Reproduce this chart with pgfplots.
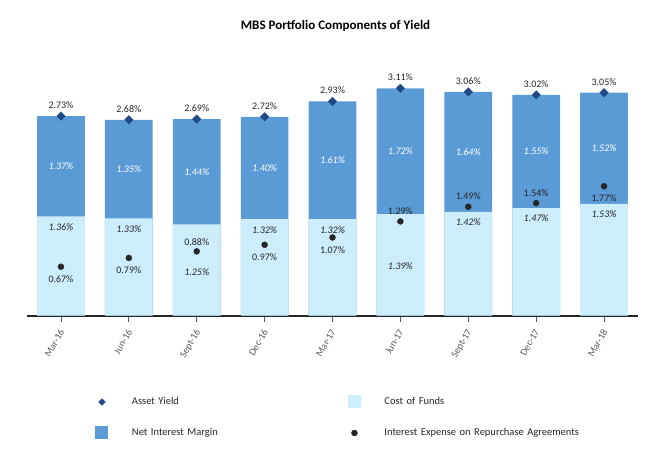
\documentclass[border=0pt]{standalone}
\usepackage{pgfplots}
\pgfplotsset{compat=1.18}
\usepackage{pgfplotstable}
\usepackage{fontspec}
\setmainfont{Carlito}
\definecolor{nimblue}{HTML}{5B9BD5}
\definecolor{cofblue}{HTML}{CCEEFC}
\definecolor{navy}{HTML}{1F4A87}
\definecolor{dotc}{HTML}{262626}
\definecolor{labc}{HTML}{262626}
\definecolor{tickc}{HTML}{595959}

\pgfplotstableread{
x ay cof nim ie ayl niml cofl iel
0 2.73 1.36 1.37 0.67 2.88 2.045 1.21 0.50
1 2.68 1.33 1.35 0.79 2.83 2.005 1.19 0.62
2 2.69 1.25 1.44 0.88 2.84 1.970 0.60 1.01
3 2.72 1.32 1.40 0.97 2.87 2.020 1.17 0.80
4 2.93 1.32 1.61 1.07 3.08 2.125 1.17 0.89
5 3.11 1.39 1.72 1.29 3.26 2.250 0.68 1.43
6 3.06 1.42 1.64 1.49 3.21 2.240 1.28 1.63
7 3.02 1.47 1.55 1.54 3.17 2.245 1.33 1.68
8 3.05 1.53 1.52 1.77 3.20 2.290 1.39 1.61
}\data

\pgfplotsset{
  legbox/.style={legend image code/.code={\path[draw=none,fill=none] (0pt,-6.5pt) rectangle (17pt,6.5pt); \fill[draw=none,#1] (2pt,-6.5pt) rectangle (15pt,6.5pt);}},
  legmark/.style={legend image code/.code={\path[draw=none,fill=none] (0pt,-6.5pt) rectangle (17pt,6.5pt); \path[draw=none,#1] plot coordinates {(8.5pt,0pt)};}},
  lab/.style={draw=none, mark=none, forget plot, nodes near coords={\pgfplotspointmeta\%}, point meta=explicit symbolic,
    nodes near coords align={anchor=center},
    every node near coord/.append style={anchor=center, inner sep=0pt, font=\fontsize{10}{12}\selectfont, #1}},
}

\begin{document}
\begin{tikzpicture}
\path[use as bounding box] (0,0) rectangle (672pt,469pt);
\node[font=\bfseries\fontsize{13}{15}\selectfont, text=black] at (335.5pt,442.7pt) {MBS Portfolio Components of Yield};
\begin{axis}[
  at={(27pt,153.3pt)}, anchor=south west,
  scale only axis, width=611pt, height=255.9pt,
  xmin=-0.5, xmax=8.5, ymin=0, ymax=3.5,
  clip=false,
  axis x line*=bottom, axis y line=none,
  axis line style={line width=1.6pt, color=dotc},
  xtick={0,...,8},
  xticklabels={Mar-16,Jun-16,Sept-16,Dec-16,Mar-17,Jun-17,Sept-17,Dec-17,Mar-18},
  ytick=\empty,
  tick align=outside,
  major tick length=6pt,
  x tick style={color=tickc, line width=0.8pt},
  xticklabel style={font=\fontsize{10}{12}\selectfont, text=tickc, inner sep=0pt, xshift=-2.1pt, yshift=-6.5pt, rotate=60, anchor=north east},
  legend columns=2,
  legend cell align=left,
  legend style={at={(0.1088,-0.3118)}, anchor=north west, draw=none, fill=none, inner sep=0pt, outer sep=0pt,
    row sep=18pt,
    nodes={inner sep=0pt, anchor=west, text width=214pt, font=\fontsize{10.5}{12}\selectfont, text=labc},
    /tikz/every odd column/.append style={column sep=21.5pt},
    /tikz/every even column/.append style={column sep=0pt}},
]
\addplot[ybar, bar width=47.7pt, bar shift=0pt, fill=nimblue, draw=none, forget plot]
  table[x=x, y expr=\thisrow{cof}+\thisrow{nim}] {\data};
\addplot[ybar, bar width=47.7pt, bar shift=0pt, fill=cofblue, draw=none, forget plot]
  table[x=x, y=cof] {\data};
\addplot[only marks, mark=square*, mark size=3pt, mark options={rotate=45, fill=navy, draw=navy}, forget plot]
  table[x=x, y=ay] {\data};
\addplot[only marks, mark=*, mark size=3pt, mark options={fill=dotc, draw=dotc}, forget plot]
  table[x=x, y=ie] {\data};
\addplot[lab={text=labc}] table[x=x, y=ayl, meta=ay] {\data};
\addplot[lab={text=white, font=\fontsize{10}{12}\selectfont\itshape}] table[x=x, y=niml, meta=nim] {\data};
\addplot[lab={text=labc, font=\fontsize{10}{12}\selectfont\itshape}] table[x=x, y=cofl, meta=cof] {\data};
\addplot[lab={text=labc}] table[x=x, y=iel, meta=ie] {\data};
\addlegendimage{legmark={only marks, mark=square*, mark size=2.4pt, mark options={rotate=45, fill=navy, draw=navy}}}
\addlegendentry{Asset Yield}
\addlegendimage{legbox=cofblue}
\addlegendentry{Cost of Funds}
\addlegendimage{legbox=nimblue}
\addlegendentry{Net Interest Margin}
\addlegendimage{legmark={only marks, mark=*, mark size=3pt, mark options={fill=dotc, draw=dotc}}}
\addlegendentry{Interest Expense on Repurchase Agreements}
\end{axis}
\end{tikzpicture}
\end{document}
